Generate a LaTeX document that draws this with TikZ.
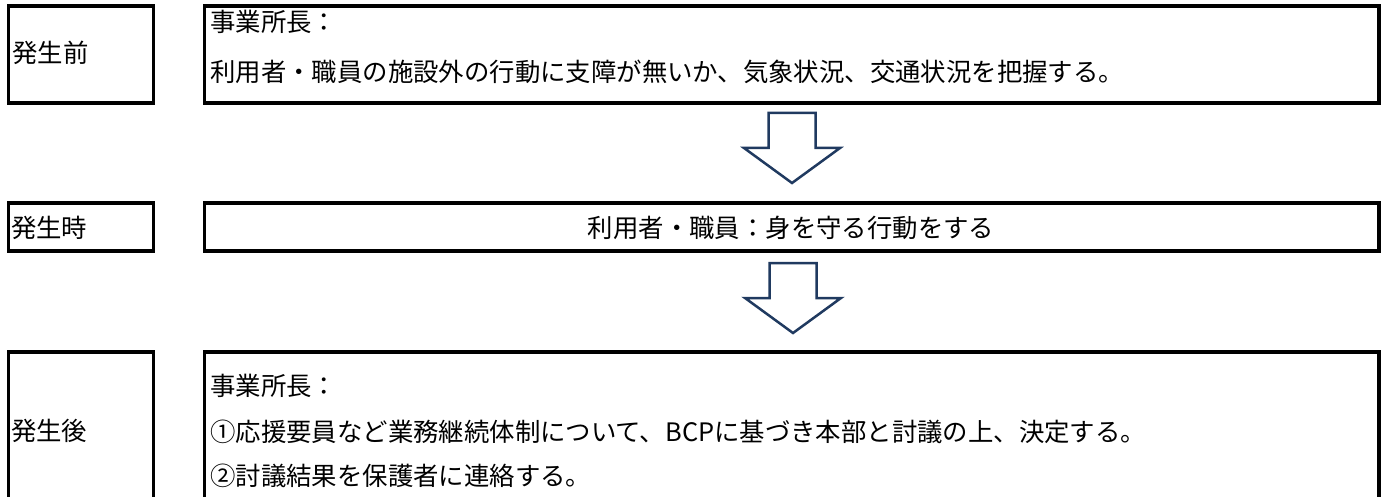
\documentclass[tikz,border=0pt]{standalone}
\usepackage{fontspec}
\setmainfont{Noto Sans CJK JP}
\definecolor{arrowblue}{HTML}{203A60}
\begin{document}
\begin{tikzpicture}[x=1pt,y=-1pt,
  box/.style={draw=black,line width=3.6pt,fill=white},
  lbl/.style={anchor=west,inner sep=0pt,font=\fontsize{25.4pt}{29pt}\selectfont},
  ctr/.style={anchor=center,inner sep=0pt,font=\fontsize{25.4pt}{29pt}\selectfont},
  blockarrow/.style={draw=arrowblue,line width=2.5pt,fill=white,line join=miter}]
\useasboundingbox (0,0) rectangle (1386,497);
% boxes
\draw[box] (8.5,6) rectangle (153.5,103);
\draw[box] (204.5,6) rectangle (1379,103);
\draw[box] (8.5,203) rectangle (153.5,251);
\draw[box] (204.5,203) rectangle (1379,251);
\draw[box] (8.5,352) rectangle (153.5,515);
\draw[box] (204.5,352) rectangle (1379,515);
% texts
\node[lbl] (t1) at (12,53) {発生前};
\node[lbl] (t2) at (210,22) {事業所長：};
\node[lbl] (t3) at (210,72) {利用者・職員の施設外の行動に支障が無いか、気象状況、交通状況を把握する。};
\node[lbl] (t4) at (11,228) {発生時};
\node[ctr] (t5) at (791,228) {利用者・職員：身を守る行動をする};
\node[lbl] (t6) at (11,431) {発生後};
\node[lbl] (t7) at (210,386) {事業所長：};
\node[lbl] (t8) at (210,432) {①応援要員など業務継続体制について、BCPに基づき本部と討議の上、決定する。};
\node[lbl] (t9) at (210,476) {②討議結果を保護者に連絡する。};
% block arrows
\draw[blockarrow] (768.5,113) -- (815.5,113) -- (815.5,148) -- (840,148) -- (792,183) -- (744,148) -- (768.5,148) -- cycle;
\draw[blockarrow] (769.5,263) -- (816.5,263) -- (816.5,298) -- (841,298) -- (793,333) -- (745,298) -- (769.5,298) -- cycle;
\end{tikzpicture}
\end{document}
